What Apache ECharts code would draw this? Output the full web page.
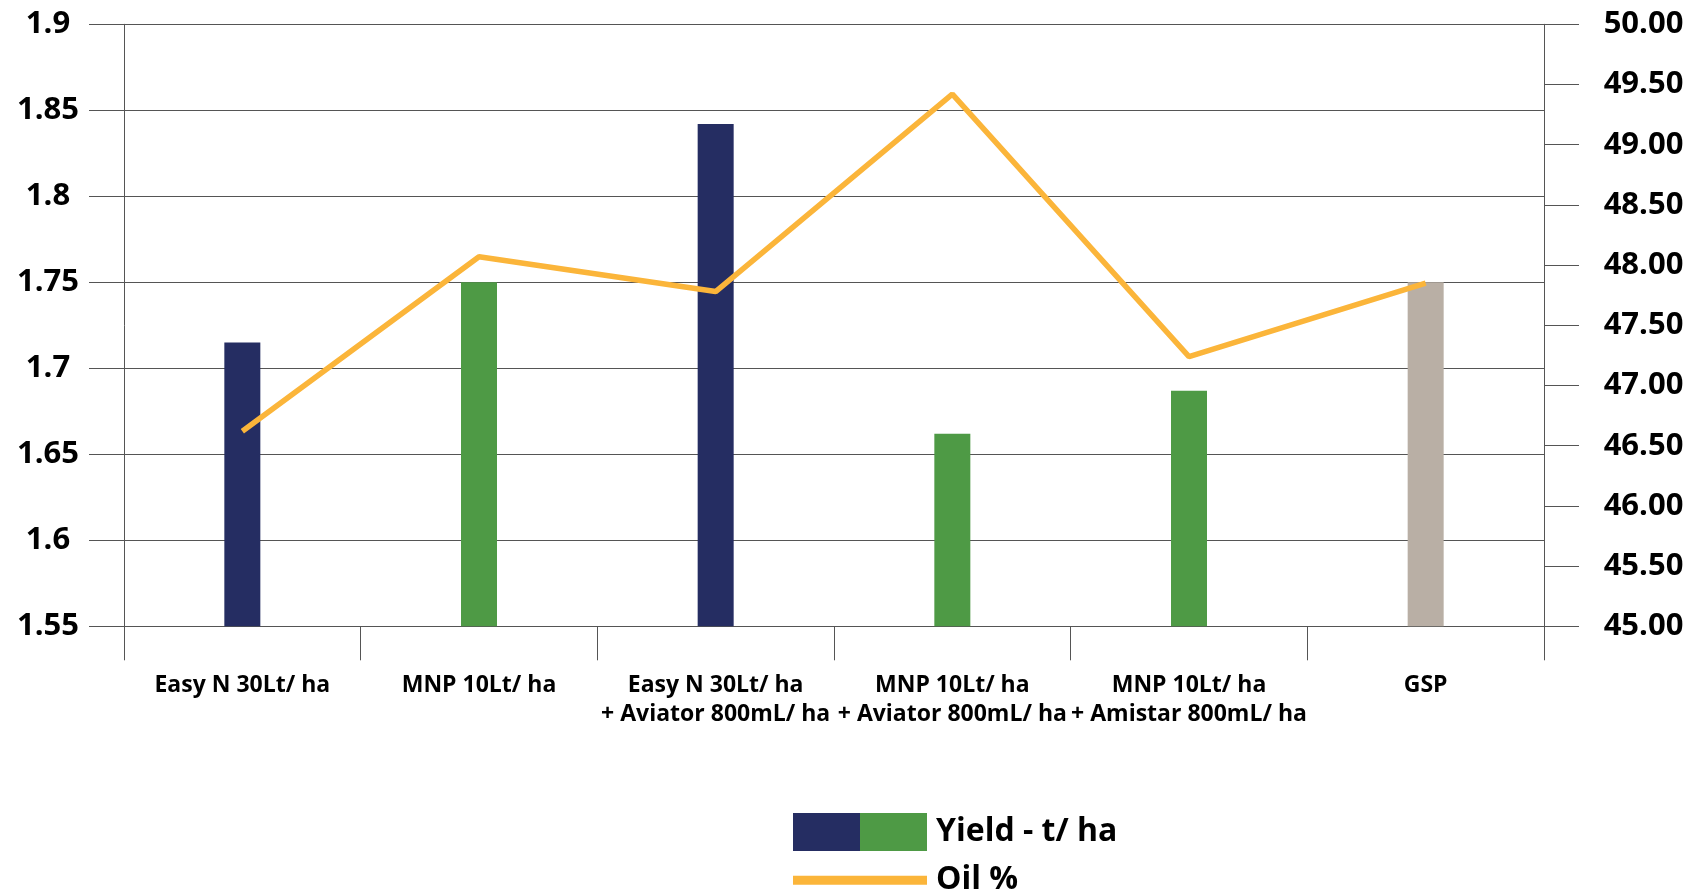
<!DOCTYPE html>
<html>
<head>
<meta charset="utf-8">
<script src="https://cdn.jsdelivr.net/npm/echarts@6/dist/echarts.min.js"></script>
<style>
html,body{margin:0;padding:0;background:#fff;}
#chart{width:1700px;height:894px;}
</style>
</head>
<body>
<div id="chart"></div>
<script>
const categories = [
  'Easy N 30Lt/ ha',
  'MNP 10Lt/ ha',
  'Easy N 30Lt/ ha\n+ Aviator 800mL/ ha',
  'MNP 10Lt/ ha\n+ Aviator 800mL/ ha',
  'MNP 10Lt/ ha\n+ Amistar 800mL/ ha',
  'GSP'
];
const yieldValues = [1.715, 1.75, 1.842, 1.662, 1.687, 1.75];
const oilValues = [46.62, 48.07, 47.78, 49.42, 47.24, 47.85];
const barColors = ['#252D62', '#4E9A45', '#252D62', '#4E9A45', '#4E9A45', '#B9AFA5'];
const leftTicks = { min: 1.55, max: 1.9, interval: 0.05 };
const rightTicks = { min: 45, max: 50, interval: 0.5 };

const FONT = '"Open Sans", "Noto Sans", sans-serif';
const lineGrey = '#555555';
const oilColor = '#FBB53A';
const legendText = { fontFamily: FONT, fontSize: 32, fontWeight: 'bold', color: '#000', lineHeight: 38, padding: [6, 0, 0, 4] };

const chart = echarts.init(document.getElementById('chart'), null, { renderer: 'canvas' });
chart.setOption({
  backgroundColor: '#ffffff',
  animation: false,
  grid: { left: 124, right: 156, top: 24.3, bottom: 267.7, containLabel: false },
  legend: [
    {
      left: 793, top: 810, padding: 0, itemWidth: 134, itemHeight: 38,
      selectedMode: false,
      textStyle: legendText,
      data: [{
        name: 'Yield - t/ ha',
        icon: 'rect',
        itemStyle: {
          color: {
            type: 'linear', x: 0, y: 0, x2: 1, y2: 0,
            colorStops: [
              { offset: 0, color: '#252D62' }, { offset: 0.5, color: '#252D62' },
              { offset: 0.5, color: '#4E9A45' }, { offset: 1, color: '#4E9A45' }
            ]
          }
        }
      }]
    },
    {
      left: 793, top: 858.3, padding: 0, itemWidth: 134, itemHeight: 9,
      selectedMode: false,
      textStyle: legendText,
      data: [{ name: 'Oil %', icon: 'rect', itemStyle: { color: oilColor } }]
    }
  ],
  xAxis: {
    type: 'category',
    data: categories,
    axisLine: { show: true, lineStyle: { color: lineGrey, width: 1 } },
    axisTick: { show: true, length: 34, alignWithLabel: false, interval: 0, lineStyle: { color: lineGrey, width: 1 } },
    axisLabel: {
      interval: 0, margin: 45,
      fontFamily: FONT, fontSize: 23, fontWeight: 'bold', color: '#000', lineHeight: 29
    },
    splitLine: { show: false }
  },
  yAxis: [
    {
      type: 'value',
      min: leftTicks.min, max: leftTicks.max, interval: leftTicks.interval,
      axisLine: { show: true, lineStyle: { color: lineGrey, width: 1 } },
      axisTick: { show: true, length: 35, lineStyle: { color: lineGrey, width: 1 } },
      axisLabel: {
        margin: 76, align: 'center',
        fontFamily: FONT, fontSize: 31, fontWeight: 'bold', color: '#000',
        formatter: v => String(+v.toFixed(2))
      },
      splitLine: { show: true, lineStyle: { color: lineGrey, width: 1 } }
    },
    {
      type: 'value',
      position: 'right',
      min: rightTicks.min, max: rightTicks.max, interval: rightTicks.interval,
      axisLine: { show: true, lineStyle: { color: lineGrey, width: 1 } },
      axisTick: { show: true, length: 35, lineStyle: { color: lineGrey, width: 1 } },
      axisLabel: {
        margin: 99.5, align: 'center',
        fontFamily: FONT, fontSize: 31, fontWeight: 'bold', color: '#000',
        formatter: v => v.toFixed(2)
      },
      splitLine: { show: false }
    }
  ],
  series: [
    {
      name: 'Yield - t/ ha',
      type: 'bar',
      yAxisIndex: 0,
      barWidth: 36,
      data: yieldValues.map((v, i) => ({ value: v, itemStyle: { color: barColors[i] } })),
      z: 2
    },
    {
      name: 'Oil %',
      type: 'line',
      yAxisIndex: 1,
      data: oilValues,
      symbol: 'none',
      lineStyle: { color: oilColor, width: 5.5 },
      itemStyle: { color: oilColor },
      z: 3
    }
  ]
});
</script>
</body>
</html>
